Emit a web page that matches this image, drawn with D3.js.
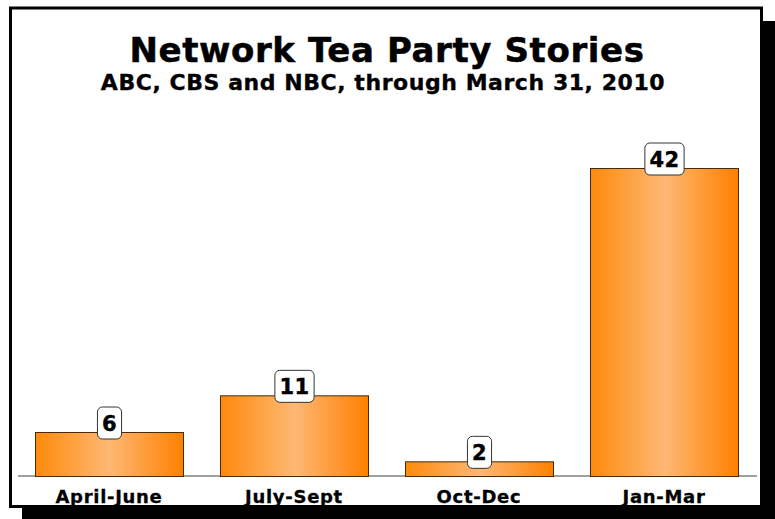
<!DOCTYPE html>
<html>
<head>
<meta charset="utf-8">
<script src="https://cdn.jsdelivr.net/npm/d3@7"></script>
<style>
  html, body { margin: 0; padding: 0; background: #ffffff; }
  svg { display: block; }
  text { font-family: "DejaVu Sans", Verdana, sans-serif; font-weight: bold; }
</style>
</head>
<body>
<script>
const categories = ["April-June", "July-Sept", "Oct-Dec", "Jan-Mar"];
const stories = [6, 11, 2, 42];
const titleText = "Network Tea Party Stories";
const subtitleText = "ABC, CBS and NBC, through March 31, 2010";

const W = 775, H = 519;
const svg = d3.select("body").append("svg").attr("width", W).attr("height", H);

const defs = svg.append("defs");
const grad = defs.append("linearGradient").attr("id", "barGrad")
  .attr("x1", "0%").attr("x2", "100%").attr("y1", "0%").attr("y2", "0%");
grad.append("stop").attr("offset", "0%").attr("stop-color", "#ff8a0c");
grad.append("stop").attr("offset", "50%").attr("stop-color", "#fdb874");
grad.append("stop").attr("offset", "100%").attr("stop-color", "#ff8000");

svg.append("rect").attr("x", 0).attr("y", 0).attr("width", W).attr("height", H).attr("fill", "#ffffff");
svg.append("rect").attr("x", 22).attr("y", 21).attr("width", 760).attr("height", 510).attr("fill", "#000000");
svg.append("rect").attr("x", 10.5).attr("y", 8).attr("width", 751).attr("height", 498.5)
  .attr("fill", "#ffffff").attr("stroke", "#000000").attr("stroke-width", 3);

svg.append("text").attr("x", 387).attr("y", 62).attr("text-anchor", "middle")
  .attr("font-size", 34).attr("letter-spacing", 0.6)
  .attr("stroke", "#000").attr("stroke-width", 0.5)
  .attr("fill", "#000").text(titleText);
svg.append("text").attr("x", 383).attr("y", 90).attr("text-anchor", "middle")
  .attr("font-size", 22).attr("letter-spacing", 0.55)
  .attr("stroke", "#000").attr("stroke-width", 0.35)
  .attr("fill", "#000").text(subtitleText);

const x = d3.scaleBand().domain(categories).range([16.5, 756.5])
  .paddingInner(0.2).paddingOuter(0.1);
const y = d3.scaleLinear().domain([0, 42]).range([476, 168]);

const data = categories.map((c, i) => ({ cat: c, v: stories[i] }));

svg.append("line").attr("x1", 18).attr("x2", 757).attr("y1", y(0)).attr("y2", y(0))
  .attr("stroke", "#808080").attr("stroke-width", 1.5);

svg.append("g").selectAll("rect").data(data).join("rect")
  .attr("x", d => x(d.cat) + 0.5)
  .attr("y", d => y(d.v) + 0.5)
  .attr("width", x.bandwidth())
  .attr("height", d => y(0) - y(d.v))
  .attr("fill", "url(#barGrad)")
  .attr("stroke", "#4a2a00").attr("stroke-width", 1);

const xAxis = d3.axisBottom(x).tickSize(0).tickPadding(0);
const ax = svg.append("g").attr("transform", `translate(0,${y(0)})`).call(xAxis);
ax.select(".domain").remove();
ax.selectAll("text").attr("font-size", 18).attr("fill", "#000")
  .attr("letter-spacing", 0.7)
  .attr("stroke", "#000").attr("stroke-width", 0.3)
  .attr("dy", null).attr("y", 26.5)
  .style("font-family", "'DejaVu Sans', Verdana, sans-serif").style("font-weight", "bold");

const lbl = svg.append("g").selectAll("g").data(data).join("g")
  .attr("transform", d => `translate(${x(d.cat) + x.bandwidth() / 2 + 0.5},${y(d.v) - 9})`);
lbl.each(function(d) {
  const g = d3.select(this);
  const t = g.append("text").attr("text-anchor", "middle").attr("y", 8)
    .attr("font-size", 21).attr("letter-spacing", 0.5)
    .attr("stroke", "#000").attr("stroke-width", 0.4)
    .attr("fill", "#000").text(d.v);
  const bb = t.node().getBBox();
  const w = bb.width + 9, h = 32;
  g.insert("rect", "text").attr("x", -w / 2).attr("y", -h / 2).attr("width", w).attr("height", h)
    .attr("rx", 5).attr("ry", 5).attr("fill", "#ffffff").attr("stroke", "#333333").attr("stroke-width", 1);
});
</script>
</body>
</html>
